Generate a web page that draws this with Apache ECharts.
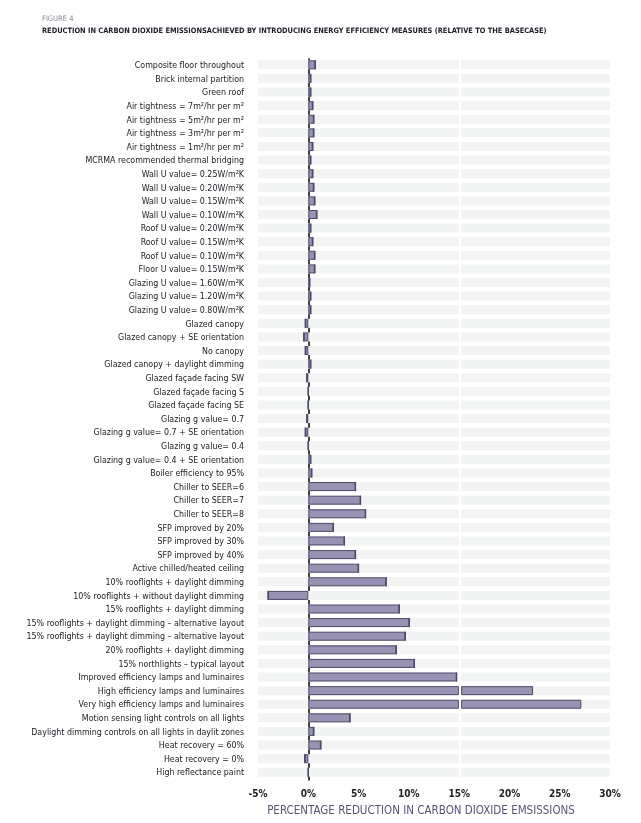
<!DOCTYPE html>
<html><head><meta charset="utf-8">
<script src="https://cdn.jsdelivr.net/npm/echarts@6/dist/echarts.min.js"></script>
<style>html,body{margin:0;padding:0;background:#fff}#c{width:641px;height:823px}</style>
</head><body><div id="c"></div>
<script>
var categories = [
"Composite floor throughout","Brick internal partition","Green roof",
"Air tightness = 7m²/hr per m²","Air tightness = 5m²/hr per m²","Air tightness = 3m²/hr per m²","Air tightness = 1m²/hr per m²",
"MCRMA recommended thermal bridging",
"Wall U value= 0.25W/m²K","Wall U value= 0.20W/m²K","Wall U value= 0.15W/m²K","Wall U value= 0.10W/m²K",
"Roof U value= 0.20W/m²K","Roof U value= 0.15W/m²K","Roof U value= 0.10W/m²K","Floor U value= 0.15W/m²K",
"Glazing U value= 1.60W/m²K","Glazing U value= 1.20W/m²K","Glazing U value= 0.80W/m²K",
"Glazed canopy","Glazed canopy + SE orientation","No canopy","Glazed canopy + daylight dimming",
"Glazed façade facing SW","Glazed façade facing S","Glazed façade facing SE",
"Glazing g value= 0.7","Glazing g value= 0.7 + SE orientation","Glazing g value= 0.4","Glazing g value= 0.4 + SE orientation",
"Boiler efficiency to 95%","Chiller to SEER=6","Chiller to SEER=7","Chiller to SEER=8",
"SFP improved by 20%","SFP improved by 30%","SFP improved by 40%","Active chilled/heated ceiling",
"10% rooflights + daylight dimming","10% rooflights + without daylight dimming","15% rooflights + daylight dimming",
"15% rooflights + daylight dimming – alternative layout","15% rooflights + daylight dimming – alternative layout",
"20% rooflights + daylight dimming","15% northlights – typical layout",
"Improved efficiency lamps and luminaires","High efficiency lamps and luminaires","Very high efficiency lamps and luminaires",
"Motion sensing light controls on all lights","Daylight dimming controls on all lights in daylit zones",
"Heat recovery = 60%","Heat recovery = 0%","High reflectance paint"
];
var values = [
0.7,0.25,0.25,
0.45,0.55,0.55,0.45,
0.25,
0.45,0.55,0.65,0.85,
0.25,0.45,0.65,0.65,
0.15,0.25,0.25,
-0.3,-0.45,-0.3,0.25,
-0.15,0,0,
-0.15,-0.3,0,0.25,
0.35,4.7,5.2,5.7,
2.5,3.6,4.7,5.0,
7.75,-4.0,9.05,
10.05,9.65,
8.75,10.55,
14.75,22.35,27.15,
4.15,0.55,
1.25,-0.35,0
];
var xTicks = {min:-5, max:30, interval:5};
var splitAt = 15, splitGap = 0.2;

var seg1 = values.map(function(v){return v > splitAt ? splitAt : v;});
var gap = values.map(function(v){return v > splitAt ? splitGap : 0;});
var seg2 = values.map(function(v){return v > splitAt ? v - splitAt - splitGap : 0;});

var font = "'Liberation Sans Narrow','DejaVu Sans Condensed','Roboto',sans-serif";
var barStyle = {color:'#9893b4', borderColor:'#4a4868', borderWidth:1};
var chart = echarts.init(document.getElementById('c'));
chart.setOption({
  animation:false,
  title:[
    {text:'FIGURE 4', left:37, top:10, textStyle:{fontFamily:font, fontSize:7.5, fontWeight:'normal', color:'#8a8898'}},
    {text:'REDUCTION IN CARBON DIOXIDE EMISSIONSACHIEVED BY INTRODUCING ENERGY EFFICIENCY MEASURES (RELATIVE TO THE BASECASE)', left:37, top:23, textStyle:{fontFamily:font, fontSize:7.4, fontWeight:'bold', color:'#1e1e28'}}
  ],
  grid:{left:258, right:31, top:59, bottom:43, containLabel:false, outerBoundsMode:'none'},
  xAxis:{type:'value', min:xTicks.min, max:xTicks.max, interval:xTicks.interval,
    axisLine:{show:false}, axisTick:{show:false}, splitLine:{show:false},
    axisLabel:{formatter:'{value}%', fontFamily:font, fontSize:10, fontWeight:'bold', color:'#222', margin:9},
    name:'PERCENTAGE REDUCTION IN CARBON DIOXIDE EMSISSIONS', nameLocation:'middle', nameGap:25,
    nameTextStyle:{fontFamily:font, fontSize:11.5, fontWeight:'normal', color:'#56557a', padding:[0,26,0,0]}
  },
  yAxis:{type:'category', data:categories, inverse:true,
    axisLine:{show:true, onZero:true, lineStyle:{color:'#000', width:1.5}},
    axisTick:{show:false},
    axisLabel:{fontFamily:font, fontSize:8.8, color:'#1a1a22', margin:14, interval:0}
  },
  series:[
    {type:'bar', stack:'a', data:seg1, barWidth:9, itemStyle:barStyle, z:3,
      showBackground:true, backgroundStyle:{color:'#f2f3f3'}},
    {type:'bar', stack:'a', data:gap, barWidth:9, itemStyle:{color:'rgba(0,0,0,0)'}, z:3},
    {type:'bar', stack:'a', data:seg2, barWidth:9, itemStyle:barStyle, z:3},
    {type:'bar', data:[], z:2, markLine:{silent:true, symbol:'none', label:{show:false},
      lineStyle:{color:'#fff', width:2, type:'solid'}, data:[{xAxis:splitAt+splitGap/2}]}}
  ]
});
</script></body></html>
